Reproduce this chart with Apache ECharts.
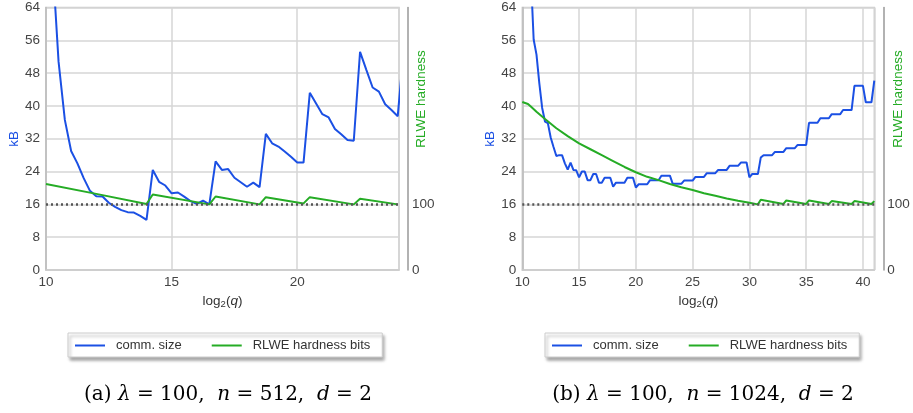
<!DOCTYPE html>
<html><head><meta charset="utf-8">
<script src="https://cdn.jsdelivr.net/npm/echarts@6/dist/echarts.min.js"></script>
<style>html,body{margin:0;padding:0;background:#fff}#c{width:913px;height:413px}</style>
</head><body><div id="c"></div>
<script>
// ---- Panel (a): n = 512 ----
const xA = [10.25,10.5,10.75,11,11.25,11.5,11.75,12,12.25,12.5,12.75,13,13.25,13.5,13.75,14,14.25,14.5,14.75,15,15.25,15.5,15.75,16,16.25,16.5,16.75,17,17.25,17.5,17.75,18,18.25,18.5,18.75,19,19.25,19.5,19.75,20,20.25,20.5,20.75,21,21.25,21.5,21.75,22,22.25,22.5,22.75,23,23.25,23.5,23.75,24,24.25];
const commA = [76,50.8,36.6,29.0,26.0,22.4,19.3,18.0,17.9,16.4,15.4,14.6,14.1,14.0,13.2,12.2,24.4,21.5,20.6,18.7,18.9,17.9,16.8,16.1,16.9,16.0,26.5,24.4,24.6,22.5,21.4,20.3,21.3,20.2,33.2,30.9,30.1,28.9,27.6,26.2,26.2,43.2,40.6,38.0,37.2,34.4,33.1,31.7,31.5,53.2,48.8,44.5,43.5,40.4,39.0,37.5,55];
const hardXA = [10,12,14,14.25,16.5,16.75,18.5,18.75,20.25,20.5,22.25,22.5,24];
const hardA = [131,116,100.6,115,100,112,100,111,101.5,111,100,108.6,100];

// ---- Panel (b): n = 1024 ----
const xB = [10.75,11,11.25,11.5,11.75,12,12.25,12.5,12.75,13,13.25,13.5,13.75,14,14.25,14.5,14.75,15,15.25,15.5,15.75,16,16.25,16.5,16.75,17,17.25,17.5,17.75,18,18.25,18.5,18.75,19,19.25,19.5,19.75,20,20.25,20.5,20.75,21,21.25,21.5,21.75,22,22.25,22.5,22.75,23,23.25,23.5,23.75,24,24.25,24.5,24.75,25,25.25,25.5,25.75,26,26.25,26.5,26.75,27,27.25,27.5,27.75,28,28.25,28.5,28.75,29,29.25,29.5,29.75,30,30.25,30.5,30.75,31,31.25,31.5,31.75,32,32.25,32.5,32.75,33,33.25,33.5,33.75,34,34.25,34.5,34.75,35,35.25,35.5,35.75,36,36.25,36.5,36.75,37,37.25,37.5,37.75,38,38.25,38.5,38.75,39,39.25,39.5,39.75,40,40.25,40.5,40.75,41];
const commB = [72,56.2,52.5,45.5,39.5,36.2,35.8,32.3,30.0,27.8,28.0,28.0,26.0,24.5,26.2,24.4,24.3,22.6,24.0,24.0,21.9,21.9,23.4,23.4,21.3,21.3,22.5,22.5,22.5,20.3,21.3,21.3,21.3,21.3,22.5,22.5,22.5,20.1,20.9,20.9,20.9,20.9,21.9,21.9,21.9,21.9,23.0,23.0,23.0,23.0,21.0,21.0,21.0,21.0,21.8,21.8,21.8,21.8,22.7,22.7,22.7,22.7,23.6,23.6,23.6,23.6,24.4,24.4,24.4,24.4,25.4,25.4,25.4,25.4,26.2,26.2,26.2,22.6,23.4,23.4,23.4,27.4,28.0,28.0,28.0,28.0,28.8,28.8,28.8,28.8,29.7,29.7,29.7,29.7,30.5,30.5,30.5,30.5,35.9,35.9,35.9,35.9,37.0,37.0,37.0,37.0,38.0,38.0,38.0,38.0,39.0,39.0,39.0,39.0,44.9,44.9,44.9,44.9,40.9,40.9,40.9,46.2];
const hardXB = [10,10.5,10.75,11.25,12,13,14,15,16,17,18,19,20,21,22,23,24,25,26,27,28,29,30,30.75,31,33,33.25,35,35.25,37,37.25,39,39.25,40.75,41];
const hardB = [256,253,249,241,230,216,204,193,184,175,166,157,149,142,137,131,126,122,117,113,109,105.5,102.5,100,107,100.6,106,100.6,106,100.6,105,100.6,105,100.6,105];

// ---- tick labels / texts ----
const kbTicks = [0,8,16,24,32,40,48,56,64];
const hardTicksShown = [0,100];
const seriesNames = ['comm. size','RLWE hardness bits'];

const BLUE = '#1b50e4', GREEN = '#25ac25';
const FONT = 'Liberation Sans';
const zip = (xs, ys) => xs.map((x,i)=>[x, ys[i]]);

function xAxisCfg(gi, max){
  return {type:'value', gridIndex:gi, min:10, max:max, interval:5,
    name:'{n|log}{s|2}{n|(}{i|q}{n|)}', nameLocation:'middle', nameGap:21,
    nameTextStyle:{rich:{
      n:{color:'#333', fontSize:13.5, fontFamily:FONT},
      i:{color:'#333', fontSize:13.5, fontFamily:FONT, fontStyle:'italic'},
      s:{color:'#333', fontSize:9.5, fontFamily:FONT, padding:[7,0,0,0]}}},
    axisLine:{show:true, lineStyle:{color:'#ccc', width:1.5}}, axisTick:{show:false},
    axisLabel:{color:'#444', fontSize:13.5, fontFamily:FONT, margin:5, showMaxLabel:false,
      formatter:v => (v%5===0 ? String(v) : '')},
    splitLine:{show:true, lineStyle:{color:'#d6d6d6', width:1.5}}};
}
function yLeft(gi){
  return {type:'value', gridIndex:gi, min:kbTicks[0], max:kbTicks[kbTicks.length-1], interval:8,
    name:'kB', nameLocation:'middle', nameGap:25, nameRotate:90,
    nameTextStyle:{color:BLUE, fontSize:13.5, fontFamily:FONT},
    axisLine:{show:true, lineStyle:{color:'#bbb', width:1.5}}, axisTick:{show:false},
    axisLabel:{color:'#444', fontSize:13.5, fontFamily:FONT, margin:6},
    splitLine:{show:true, lineStyle:{color:'#d6d6d6', width:1.5}}};
}
function yRight(gi){
  return {type:'value', gridIndex:gi, position:'right', offset:9, min:0, max:400, interval:100,
    axisLine:{show:true, lineStyle:{color:'#999', width:1.5}}, axisTick:{show:false},
    axisLabel:{color:'#444', fontSize:13.5, fontFamily:FONT, margin:4,
      formatter:v => (hardTicksShown.indexOf(v)>=0 ? String(v) : '')},
    splitLine:{show:false}};
}
function commSeries(xi, yi, data){
  return {name:seriesNames[0], type:'line', xAxisIndex:xi, yAxisIndex:yi, data:data,
    symbol:'none', clip:true, lineStyle:{color:BLUE, width:2}, itemStyle:{color:BLUE}, z:3,
    markLine:{silent:true, symbol:'none', label:{show:false},
      lineStyle:{color:'#555', width:2.5, type:[2,3]}, data:[{yAxis:16}]}};
}
function hardSeries(xi, yi, data){
  return {name:seriesNames[1], type:'line', xAxisIndex:xi, yAxisIndex:yi, data:data,
    symbol:'none', clip:true, lineStyle:{color:GREEN, width:2}, itemStyle:{color:GREEN}, z:4};
}
function legendCfg(left){
  return {left:left, top:333, orient:'horizontal', data:seriesNames,
    icon:'rect', itemWidth:30, itemHeight:2, itemGap:30, padding:[6,12,5,7],
    backgroundColor:'#fff', borderColor:'#ccc', borderWidth:1,
    shadowColor:'rgba(0,0,0,0.35)', shadowBlur:3, shadowOffsetX:2, shadowOffsetY:3,
    textStyle:{color:'#333', fontSize:13, fontFamily:FONT, padding:[0,0,0,6]}};
}
const CAPFONT = 'DejaVu Serif';
const capRich = {
  r:{fontFamily:CAPFONT, fontSize:20, fontWeight:'normal', color:'#000'},
  i:{fontFamily:CAPFONT, fontSize:20, fontWeight:'normal', fontStyle:'italic', color:'#000'}
};
function caption(cx, tag, n){
  return {text:'{r|('+tag+') }{i|λ}{r| = 100,  }{i|n}{r| = '+n+',  }{i|d}{r| = 2}',
    left:cx, top:380, textAlign:'center', textStyle:{fontWeight:'normal', rich:capRich}};
}

const chart = echarts.init(document.getElementById('c'), null, {renderer:'canvas'});
chart.setOption({
  backgroundColor:'#fff',
  animation:false,
  grid:[
    {left:46, top:7.5, width:353, height:262.5, show:true, borderColor:'#ccc', borderWidth:1.5, containLabel:false},
    {left:522.3, top:7.5, width:352, height:262.5, show:true, borderColor:'#ccc', borderWidth:1.5, containLabel:false}
  ],
  xAxis:[xAxisCfg(0, 24.05), xAxisCfg(1, 41)],
  yAxis:[yLeft(0), yRight(0), yLeft(1), yRight(1)],
  series:[
    commSeries(0, 0, zip(xA, commA)),
    hardSeries(0, 1, zip(hardXA, hardA)),
    commSeries(1, 2, zip(xB, commB)),
    hardSeries(1, 3, zip(hardXB, hardB))
  ],
  legend:[legendCfg(68), legendCfg(545)],
  title:[caption(223, 'a', 512), caption(698, 'b', 1024)],
  graphic:[
    {type:'text', x:421, y:99, rotation:Math.PI/2,
      style:{text:'RLWE hardness', fill:GREEN, fontSize:13.5, fontFamily:FONT, align:'center', verticalAlign:'middle'}},
    {type:'text', x:898, y:99, rotation:Math.PI/2,
      style:{text:'RLWE hardness', fill:GREEN, fontSize:13.5, fontFamily:FONT, align:'center', verticalAlign:'middle'}}
  ]
});
</script></body></html>
